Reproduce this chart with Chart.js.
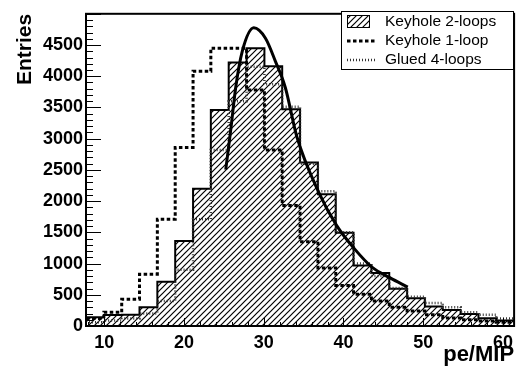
<!DOCTYPE html>
<html><head><meta charset="utf-8">
<script src="https://cdn.jsdelivr.net/npm/chart.js@4"></script>
<style>html,body{margin:0;padding:0;background:#fff;}#wrap{width:519px;height:371px;}</style>
</head><body><div id="wrap"><canvas id="c" width="519" height="371"></canvas></div>
<script>
// bin edges (pe/MIP), 24 bins
const binEdges = [7.70, 9.94, 12.18, 14.41, 16.65, 18.89, 21.13, 23.36, 25.60, 27.84, 30.08, 32.31,
  34.55, 36.79, 39.03, 41.26, 43.50, 45.74, 47.98, 50.21, 52.45, 54.69, 56.93, 59.16, 61.40];
const keyhole2 = [140, 175, 180, 300, 710, 1360, 2200, 3460, 4220, 4450, 4160, 3470,
  2620, 2110, 1495, 970, 850, 596, 444, 313, 255, 192, 123, 87];
const keyhole1 = [120, 220, 430, 830, 1710, 2860, 4080, 4450, 4450, 3780, 2820, 1930,
  1350, 930, 650, 510, 400, 300, 240, 180, 130, 100, 80, 60];
const glued4 = [60, 90, 120, 200, 400, 900, 1710, 2820, 3600, 4150, 3870, 3510,
  2600, 2160, 1500, 1000, 800, 610, 470, 370, 300, 220, 180, 120];
const fitX = [25.23, 25.85, 26.48, 27.30, 28.75, 30.21, 31.46, 32.70, 34.15, 36.85, 39.13, 41.33, 43.61, 45.85, 48.06];
const fitY = [2504, 3135, 3820, 4397, 4775, 4608, 4239, 3820, 3031, 2153, 1612, 1243, 938, 770, 623];
const xTickLabels = [10, 20, 30, 40, 50, 60];
const yTickLabels = [0, 500, 1000, 1500, 2000, 2500, 3000, 3500, 4000, 4500];
const seriesNames = ['Keyhole 2-loops', 'Keyhole 1-loop', 'Glued 4-loops'];
const xTitle = 'pe/MIP';
const yTitle = 'Entries';

function histPoints(vals) {
  const pts = vals.map((v, i) => ({x: binEdges[i], y: v}));
  pts.push({x: binEdges[vals.length], y: vals[vals.length - 1]});
  return pts;
}
const canvas = document.getElementById('c');
const ctx = canvas.getContext('2d');
function makeHatch() {
  const c = document.createElement('canvas');
  c.width = 6; c.height = 6;
  const g = c.getContext('2d');
  g.strokeStyle = '#000'; g.lineWidth = 1.2;
  g.beginPath();
  g.moveTo(-1, 7); g.lineTo(7, -1);
  g.moveTo(-4, 4); g.lineTo(4, -4);
  g.moveTo(2, 10); g.lineTo(10, 2);
  g.stroke();
  return ctx.createPattern(c, 'repeat');
}
const hatch = makeHatch();
const DASH1 = [3.5, 2.5];
const DASH4 = [1, 2];

const decor = {
  id: 'decor',
  afterDatasetsDraw(chart) {
    const {ctx, chartArea: a, scales: {x, y}} = chart;
    ctx.save();
    ctx.strokeStyle = '#000';
    ctx.lineWidth = 1;
    for (let v = 8; v <= 61; v += 2) {
      const px = Math.round(x.getPixelForValue(v)) + 0.5;
      const len = v % 10 === 0 ? 8 : 4;
      ctx.beginPath(); ctx.moveTo(px, a.bottom); ctx.lineTo(px, a.bottom - len); ctx.stroke();
    }
    for (let v = 0; v <= 5000; v += 100) {
      const py = Math.round(y.getPixelForValue(v)) + 0.5;
      const len = v % 500 === 0 ? 15 : 7;
      ctx.beginPath(); ctx.moveTo(a.left, py); ctx.lineTo(a.left + len, py); ctx.stroke();
    }
    ctx.lineWidth = 2;
    ctx.strokeRect(a.left, a.top, a.right - a.left, a.bottom - a.top);
    // legend
    const L = {x: 341.5, y: 11.5, w: 172, h: 58};
    ctx.fillStyle = '#fff';
    ctx.fillRect(L.x, L.y, L.w, L.h);
    ctx.lineWidth = 1;
    ctx.strokeRect(L.x, L.y, L.w, L.h);
    ctx.fillStyle = hatch;
    ctx.fillRect(347, 15, 23, 13);
    ctx.strokeRect(347.5, 15.5, 22, 12);
    ctx.lineWidth = 3; ctx.setLineDash(DASH1);
    ctx.beginPath(); ctx.moveTo(347, 41); ctx.lineTo(376, 41); ctx.stroke();
    ctx.lineWidth = 2.5; ctx.setLineDash(DASH4); ctx.strokeStyle = '#333';
    ctx.beginPath(); ctx.moveTo(347, 60); ctx.lineTo(377, 60); ctx.stroke();
    ctx.setLineDash([]);
    ctx.fillStyle = '#000';
    ctx.font = '15.5px "Liberation Sans", Arial, sans-serif';
    ctx.textBaseline = 'middle'; ctx.textAlign = 'left';
    ctx.fillText(seriesNames[0], 385, 22);
    ctx.fillText(seriesNames[1], 385, 41);
    ctx.fillText(seriesNames[2], 385, 60);
    ctx.restore();
  }
};

const tickFont = {family: '"Liberation Sans", Arial, sans-serif', size: 18, weight: 'bold'};
new Chart(ctx, {
  type: 'line',
  data: {
    datasets: [
      {label: 'fit', data: fitX.map((v, i) => ({x: v, y: fitY[i]})), borderColor: '#000', borderWidth: 3,
        pointRadius: 0, cubicInterpolationMode: 'monotone', fill: false, order: 0},
      {label: seriesNames[1], data: histPoints(keyhole1), stepped: 'before', borderColor: '#000', borderWidth: 3,
        borderDash: DASH1, pointRadius: 0, fill: false, order: 1},
      {label: seriesNames[2], data: histPoints(glued4), stepped: 'before', borderColor: '#333', borderWidth: 2.5,
        borderDash: DASH4, pointRadius: 0, fill: false, order: 2},
      {label: seriesNames[0], data: histPoints(keyhole2), stepped: 'before', borderColor: '#000', borderWidth: 2,
        backgroundColor: hatch, pointRadius: 0, fill: 'origin', order: 3}
    ]
  },
  options: {
    responsive: false, animation: false,
    layout: {padding: {top: 8, right: 2, left: 0, bottom: 0}},
    plugins: {legend: {display: false}, tooltip: {enabled: false}},
    scales: {
      x: {
        type: 'linear', min: 7.7, max: 61.4,
        afterFit(s) { s.height = 45; },
        afterBuildTicks(s) { s.ticks = xTickLabels.map(v => ({value: v})); },
        grid: {display: false, drawTicks: false},
        border: {display: false},
        ticks: {font: tickFont, color: '#000', padding: 6, maxRotation: 0, autoSkip: false,
          callback: v => String(v)},
        title: {display: true, text: xTitle, align: 'end', color: '#000',
          font: {family: '"Liberation Sans", Arial, sans-serif', size: 22, weight: 'bold'}, padding: {top: 0, bottom: 3}}
      },
      y: {
        type: 'linear', min: 0, max: 5000,
        afterFit(s) { s.width = 86; },
        afterBuildTicks(s) { s.ticks = yTickLabels.map(v => ({value: v})); },
        grid: {display: false, drawTicks: false},
        border: {display: false},
        ticks: {font: tickFont, color: '#000', padding: 3, autoSkip: false, callback: v => String(v)},
        title: {display: true, text: yTitle, align: 'end', color: '#000',
          font: {family: '"Liberation Sans", Arial, sans-serif', size: 21, weight: 'bold'}, padding: {top: 13, bottom: 0}}
      }
    }
  },
  plugins: [decor]
});
</script></body></html>
